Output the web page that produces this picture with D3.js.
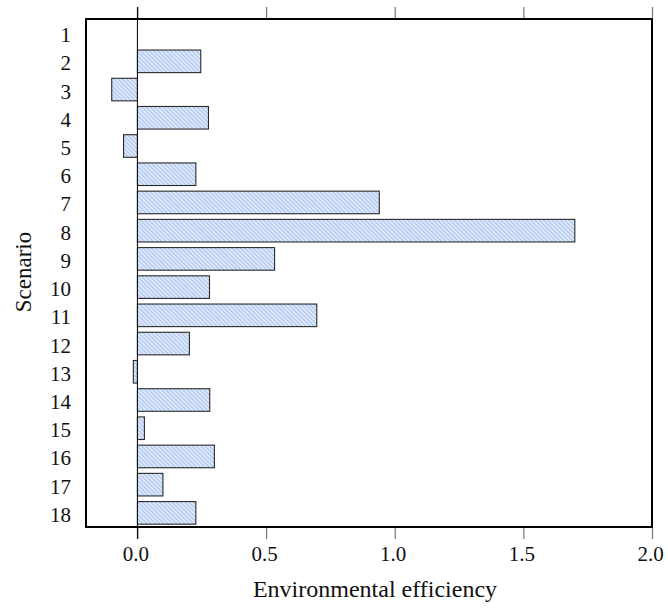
<!DOCTYPE html>
<html>
<head>
<meta charset="utf-8">
<script src="https://cdn.jsdelivr.net/npm/d3@7"></script>
<style>
  html, body { margin: 0; padding: 0; background: #fff; }
  svg { display: block; }
  text { font-family: "Liberation Serif", "Times New Roman", serif; fill: #111; }
</style>
</head>
<body>
<svg id="chart" width="668" height="610"></svg>
<script>
// Environmental efficiency per scenario
const scenarios = [1, 2, 3, 4, 5, 6, 7, 8, 9, 10, 11, 12, 13, 14, 15, 16, 17, 18];
const efficiency = [0, 0.246, -0.10, 0.276, -0.054, 0.227, 0.94, 1.70, 0.533, 0.28,
                    0.697, 0.202, -0.016, 0.281, 0.027, 0.299, 0.099, 0.227];
const xTicks = [0, 0.5, 1.0, 1.5, 2.0];

const svg = d3.select("#chart");
const frame = { left: 86, top: 19, right: 652, bottom: 527 };

const x = d3.scaleLinear().domain([-0.2, 2.0]).range([frame.left, frame.right]);
const y = d3.scaleBand()
  .domain(scenarios)
  .range([frame.top, frame.bottom])
  .paddingInner(0.2)
  .paddingOuter(0.1);

// Hatched fill for the bars
const defs = svg.append("defs");
const pat = defs.append("pattern")
  .attr("id", "hatch")
  .attr("patternUnits", "userSpaceOnUse")
  .attr("width", 3).attr("height", 3)
  .attr("patternTransform", "rotate(-45)");
pat.append("rect").attr("width", 3).attr("height", 3).attr("fill", "#e8effc");
pat.append("rect").attr("width", 1.3).attr("height", 3).attr("fill", "#a8c2ef");

const data = scenarios.map((s, i) => ({ s, v: efficiency[i] }));

svg.append("g").selectAll("rect")
  .data(data.filter(d => d.v !== 0))
  .join("rect")
  .attr("x", d => x(Math.min(0, d.v)))
  .attr("y", d => y(d.s))
  .attr("width", d => Math.abs(x(d.v) - x(0)))
  .attr("height", y.bandwidth())
  .attr("fill", "url(#hatch)")
  .attr("stroke", "#2a2a2a")
  .attr("stroke-width", 1.1);

// Bottom axis
const bottomAxis = svg.append("g")
  .attr("transform", `translate(0,${frame.bottom})`)
  .call(d3.axisBottom(x).tickValues(xTicks).tickFormat(d3.format(".1f")).tickSize(12).tickPadding(7));
bottomAxis.select(".domain").remove();
bottomAxis.selectAll(".tick line").attr("stroke", "#777").attr("stroke-width", 1.2);
bottomAxis.selectAll(".tick text")
  .attr("font-size", 21)
  .attr("dx", -2)
  .style("font-family", "Liberation Serif");

// Top ticks without labels
const topAxis = svg.append("g")
  .attr("transform", `translate(0,${frame.top})`)
  .call(d3.axisTop(x).tickValues(xTicks).tickFormat("").tickSize(12));
topAxis.select(".domain").remove();
topAxis.selectAll(".tick line").attr("stroke", "#777").attr("stroke-width", 1.2);

// Left axis labels
const leftAxis = svg.append("g")
  .attr("transform", `translate(${frame.left},0)`)
  .call(d3.axisLeft(y).tickSize(0).tickPadding(15));
leftAxis.select(".domain").remove();
leftAxis.selectAll(".tick text")
  .attr("font-size", 21)
  .attr("dy", "0.43em")
  .style("font-family", "Liberation Serif");

// Zero reference line
svg.append("line")
  .attr("x1", x(0)).attr("x2", x(0))
  .attr("y1", frame.top - 12).attr("y2", frame.bottom + 12)
  .attr("stroke", "#111").attr("stroke-width", 1.1);

// Plot frame
svg.append("rect")
  .attr("x", frame.left).attr("y", frame.top)
  .attr("width", frame.right - frame.left)
  .attr("height", frame.bottom - frame.top)
  .attr("fill", "none")
  .attr("stroke", "#000")
  .attr("stroke-width", 2);

// Axis titles
svg.append("text")
  .attr("x", 375)
  .attr("y", 597)
  .attr("text-anchor", "middle")
  .attr("font-size", 24)
  .text("Environmental efficiency");

svg.append("text")
  .attr("transform", `translate(31,272) rotate(-90)`)
  .attr("text-anchor", "middle")
  .attr("font-size", 23)
  .text("Scenario");
</script>
</body>
</html>
